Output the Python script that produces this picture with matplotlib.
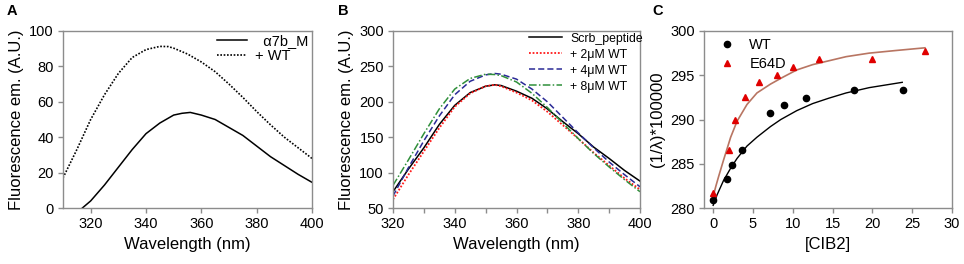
import matplotlib
matplotlib.use("Agg")
import matplotlib.pyplot as plt
from matplotlib.ticker import MultipleLocator

plt.rcParams["font.family"] = ["Liberation Sans", "DejaVu Sans"]

# ── Panel A: alpha7b_M emission spectra ─────────────────────────────────────
a_wl_m = [317, 320, 325, 330, 335, 340, 345, 350, 353, 356, 360, 365, 370,
          375, 380, 385, 390, 395, 400]
a_m    = [0, 4, 13, 23, 33, 42, 48, 52.5, 53.5, 54, 52.5, 50, 45.5,
          41, 35, 29, 24, 19, 14.5]
a_wl_wt = [310, 315, 320, 325, 330, 335, 340, 345, 348, 350, 355, 360, 365,
           370, 375, 380, 385, 390, 395, 400]
a_wt    = [17, 33, 50, 64, 76, 85, 89.5, 91.3, 91.2, 90.3, 87, 82.5, 77,
           70, 62.5, 54.5, 47, 40, 34, 28]

# ── Panel B: scrambled peptide titration ────────────────────────────────────
b_wl    = [320, 325, 330, 335, 340, 345, 350, 353, 355, 360, 365, 370, 375,
           380, 385, 390, 395, 400]
b_scrb  = [73, 105, 135, 168, 195, 213, 222, 224, 223, 215, 205, 190, 172,
           155, 136, 120, 103, 88]
b_wt2   = [62, 97, 130, 163, 193, 212, 222, 224, 222, 213, 202, 186, 167,
           148, 128, 110, 92, 76]
b_wt4   = [67, 107, 145, 180, 210, 229, 238, 240, 239, 232, 218, 200, 178,
           156, 135, 115, 97, 80]
b_wt8   = [82, 118, 155, 190, 218, 233, 239, 238.5, 237, 228, 212, 192, 170,
           148, 127, 108, 90, 73]

# ── Panel C: binding curves ─────────────────────────────────────────────────
c_wt_x   = [0, 1.8, 2.4, 3.6, 7.2, 8.9, 11.7, 17.7, 23.8]
c_wt_y   = [280.9, 283.3, 284.9, 286.6, 290.7, 291.6, 292.4, 293.3, 293.3]
c_e64d_x = [0, 2, 2.7, 4, 5.7, 8, 10, 13.3, 20, 26.6]
c_e64d_y = [281.7, 286.6, 289.9, 292.5, 294.2, 295.0, 295.9, 296.8, 296.8, 297.7]

fit_wt_x   = [0, 0.5, 1.3, 2.2, 3.0, 4.25, 5.5, 7.2, 8.5, 10.5, 12.5, 14.5,
              16.7, 19.6, 23.75]
fit_wt_y   = [280.3, 281.5, 283.1, 284.5, 285.6, 287.0, 288.0, 289.2, 290.0,
              291.0, 291.8, 292.4, 293.0, 293.6, 294.2]
fit_e64d_x = [0, 0.35, 0.7, 1.3, 2.2, 3.0, 4.25, 5.5, 7.2, 8.8, 10.5, 12.5,
              16.7, 19.6, 23, 26.6]
fit_e64d_y = [281.3, 282.5, 283.6, 285.4, 288.0, 289.8, 291.7, 293.0, 294.0,
              294.8, 295.6, 296.2, 297.1, 297.5, 297.8, 298.1]

SPINE = "#8c8c8c"
W, H = 964, 264

fig = plt.figure(figsize=(W / 100, H / 100), dpi=100)


def make_ax(left_px, right_px):
    top_px, bot_px = 31, 208
    ax = fig.add_axes([left_px / W, 1 - bot_px / H,
                       (right_px - left_px) / W, (bot_px - top_px) / H])
    for s in ax.spines.values():
        s.set_color(SPINE)
        s.set_linewidth(1.0)
    ax.tick_params(which="both", direction="out", color=SPINE, labelsize=10.5,
                   length=3.5, width=1.0, pad=3)
    return ax


# ── A ──
axA = make_ax(63, 312)
axA.plot(a_wl_m, a_m, color="black", lw=1.1, label="  \u03b17b_M")
axA.plot(a_wl_wt, a_wt, color="black", lw=1.2, ls=(0, (1, 1)), label="+ WT")
axA.set_xlim(310, 400)
axA.set_ylim(0, 100)
axA.set_xticks([320, 340, 360, 380, 400])
axA.set_yticks(range(0, 101, 20))
axA.set_xlabel("Wavelength (nm)", fontsize=12)
axA.set_ylabel("Fluorescence em. (A.U.)", fontsize=12)
axA.legend(loc="upper left", bbox_to_anchor=(0.62, 0.985), frameon=False,
           fontsize=10.5, handlelength=2.0, handletextpad=0.6,
           labelspacing=0.1, borderpad=0, borderaxespad=0)

# ── B ──
axB = make_ax(393, 640)
axB.plot(b_wl, b_scrb, color="black", lw=1.1, label="Scrb_peptide")
axB.plot(b_wl, b_wt2, color="#ff1a1a", lw=1.3, ls=(0, (1, 1)), label="+ 2\u03bcM WT")
axB.plot(b_wl, b_wt4, color="#2a2a96", lw=1.1, ls=(0, (4, 2)), label="+ 4\u03bcM WT")
axB.plot(b_wl, b_wt8, color="#2f8f3a", lw=1.1, ls=(0, (5, 1.5, 1, 1.5)),
         label="+ 8\u03bcM WT")
axB.set_xlim(320, 400)
axB.set_ylim(50, 300)
axB.xaxis.set_major_locator(MultipleLocator(20))
axB.xaxis.set_minor_locator(MultipleLocator(10))
axB.set_yticks(range(50, 301, 50))
axB.set_xlabel("Wavelength (nm)", fontsize=12)
axB.set_ylabel("Fluorescence em. (A.U.)", fontsize=12)
axB.legend(loc="upper left", bbox_to_anchor=(0.551, 0.99), frameon=False,
           fontsize=8.8, handlelength=2.7, handletextpad=0.65,
           labelspacing=0.32, borderpad=0, borderaxespad=0)

# ── C ──
axC = make_ax(704, 952)
axC.plot(fit_wt_x, fit_wt_y, color="black", lw=1.0)
axC.plot(fit_e64d_x, fit_e64d_y, color="#b87562", lw=1.2)
axC.plot(c_wt_x, c_wt_y, "o", color="black", ms=4.5, label="WT")
axC.plot(c_e64d_x, c_e64d_y, "^", color="#e00000", ms=4.5, label="E64D")
axC.set_xlim(-1.15, 30)
axC.set_ylim(280, 300)
axC.set_xticks(range(0, 31, 5))
axC.set_yticks(range(280, 301, 5))
axC.set_xlabel("[CIB2]", fontsize=12)
axC.set_ylabel("(1/\u03bb)*100000", fontsize=12)
axC.legend(loc="upper left", bbox_to_anchor=(0.065, 0.96), frameon=False,
           fontsize=10.5, handlelength=1.0, handletextpad=1.0,
           labelspacing=0.32, borderpad=0, borderaxespad=0)

for lab, xp in (("A", 7), ("B", 338), ("C", 652)):
    fig.text(xp / W, 1 - 4 / H, lab, fontsize=10.5, fontweight="bold",
             ha="left", va="top")

fig.savefig("out.png", dpi=100)
